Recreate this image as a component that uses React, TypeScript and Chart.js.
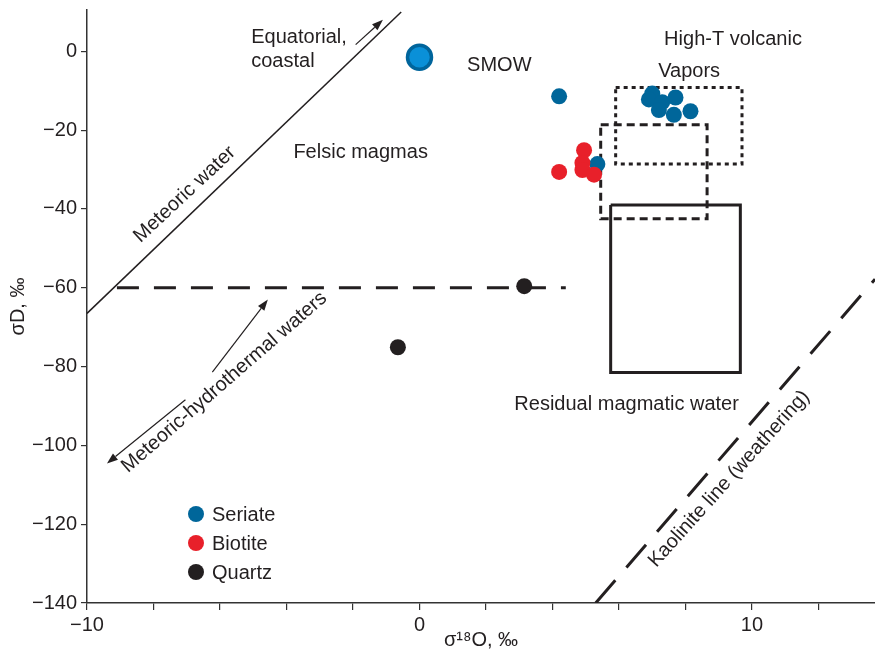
import React, { useEffect, useRef } from 'react';
import { Chart, registerables } from 'chart.js';

Chart.register(...registerables);

// ---- data ----
const seriateX = [4.2, 7.0, 6.9, 7.3, 7.2, 7.7, 7.65, 8.15, 5.35];
const seriateY = [-11.4, -10.7, -12.2, -12.9, -14.9, -11.7, -16.1, -15.2, -28.6];
const biotiteX = [4.95, 4.2, 4.9, 4.9, 5.25];
const biotiteY = [-25.1, -30.6, -28.3, -30.1, -31.3];
const quartzX = [3.15, -0.65];
const quartzY = [-59.6, -75.1];
const smowX = [0];
const smowY = [-1.5];

const meteoricLineX = [-10, -0.55];
const meteoricLineY = [-66.5, 10];
const hydroLineX = [-9.1, 4.4];
const hydroLineY = [-60, -60];
const kaoliniteLineX = [5.3, 13.7];
const kaoliniteLineY = [-140, -57.8];

const vaporsBoxX = [5.9, 9.7];
const vaporsBoxY = [-9.2, -28.6];
const felsicBoxX = [5.45, 8.65];
const felsicBoxY = [-18.6, -42.5];
const residualBoxX = [5.75, 9.65];
const residualBoxY = [-39, -81.5];

const xTickValuesLabelled = [-10, 0, 10];
const legendOrder = ['Seriate', 'Biotite', 'Quartz'];

const labels = [
  { text: 'Equatorial,', x: -5.06, y: 3.5, angle: 0, align: 'left' },
  { text: 'coastal', x: -5.06, y: -2.5, angle: 0, align: 'left' },
  { text: 'SMOW', x: 2.4, y: -3.6, angle: 0, align: 'center' },
  { text: 'High-T volcanic', x: 9.43, y: 3.0, angle: 0, align: 'center' },
  { text: 'Vapors', x: 8.11, y: -5.2, angle: 0, align: 'center' },
  { text: 'Felsic magmas', x: -1.77, y: -25.6, angle: 0, align: 'center' },
  { text: 'Residual magmatic water', x: 6.23, y: -89.5, angle: 0, align: 'center' },
  { text: 'Meteoric water', x: -7.06, y: -36.3, angle: -43, align: 'center' },
  { text: 'Meteoric-hydrothermal waters', x: -5.87, y: -84.0, angle: -41, align: 'center' },
  { text: 'Kaolinite line (weathering)', x: 9.31, y: -108.5, angle: -48, align: 'center' },
];

const arrowsFromX = [-1.92, -6.23, -7.04];
const arrowsFromY = [1.7, -81.4, -88.4];
const arrowsToX = [-1.1, -4.56, -9.4];
const arrowsToY = [8.0, -63.0, -104.6];

// ---- styles ----
const FONT = '"Liberation Sans", Arial, Helvetica, sans-serif';
const TEXT = '#231f20';
const AXIS = '#333333';
const BLUE = '#00669a';
const RED = '#e8202a';
const BLACK = '#231f20';

const pts = (xs: number[], ys: number[]) => xs.map((x, i) => ({ x, y: ys[i] }));
const box = (xs: number[], ys: number[]) => [
  { x: xs[0], y: ys[0] },
  { x: xs[1], y: ys[0] },
  { x: xs[1], y: ys[1] },
  { x: xs[0], y: ys[1] },
  { x: xs[0], y: ys[0] },
];
const fmt = (v: number) => (v < 0 ? '\u2212' + Math.abs(v) : String(v));

const annotationPlugin = {
  id: 'annotations',
  afterDatasetsDraw(chart: any) {
    const { ctx, scales, chartArea } = chart;
    const xs = scales.x;
    const ys = scales.y;
    ctx.save();
    // texts
    ctx.fillStyle = TEXT;
    ctx.font = `20px ${FONT}`;
    ctx.textBaseline = 'middle';
    for (const t of labels) {
      ctx.save();
      ctx.translate(xs.getPixelForValue(t.x), ys.getPixelForValue(t.y));
      ctx.rotate((t.angle * Math.PI) / 180);
      ctx.textAlign = t.align as CanvasTextAlign;
      ctx.fillText(t.text, 0, 0);
      ctx.restore();
    }
    // arrows
    ctx.strokeStyle = TEXT;
    ctx.fillStyle = TEXT;
    ctx.lineWidth = 1.2;
    for (let i = 0; i < arrowsFromX.length; i++) {
      const x1 = xs.getPixelForValue(arrowsFromX[i]);
      const y1 = ys.getPixelForValue(arrowsFromY[i]);
      const x2 = xs.getPixelForValue(arrowsToX[i]);
      const y2 = ys.getPixelForValue(arrowsToY[i]);
      const a = Math.atan2(y2 - y1, x2 - x1);
      const hl = 11;
      const hw = 4;
      const bx = x2 - hl * Math.cos(a);
      const by = y2 - hl * Math.sin(a);
      ctx.beginPath();
      ctx.moveTo(x1, y1);
      ctx.lineTo(bx, by);
      ctx.stroke();
      ctx.beginPath();
      ctx.moveTo(x2, y2);
      ctx.lineTo(bx + hw * Math.sin(a), by - hw * Math.cos(a));
      ctx.lineTo(bx - hw * Math.sin(a), by + hw * Math.cos(a));
      ctx.closePath();
      ctx.fill();
    }
    // legend
    const lx = chartArea.left + 109;
    let ly = chartArea.bottom - 89;
    ctx.textAlign = 'left';
    for (const name of legendOrder) {
      const d = chart.data.datasets.find((ds: any) => ds.label === name);
      if (!d) continue;
      ctx.beginPath();
      ctx.arc(lx, ly, 8, 0, Math.PI * 2);
      ctx.fillStyle = d.backgroundColor;
      ctx.fill();
      ctx.fillStyle = TEXT;
      ctx.fillText(d.label, lx + 16, ly + 1);
      ly += 29;
    }
    ctx.restore();
  },
};

export default function App() {
  const ref = useRef<HTMLCanvasElement | null>(null);

  useEffect(() => {
    if (!ref.current) return;
    const lineDs = (label: string, data: any[], dash: number[], width: number) => ({
      label,
      data,
      showLine: true,
      borderColor: BLACK,
      borderWidth: width,
      borderDash: dash,
      pointRadius: 0,
      pointHoverRadius: 0,
      fill: false,
      tension: 0,
      order: 10,
    });
    const chart = new Chart(ref.current, {
      type: 'scatter',
      data: {
        datasets: [
          {
            label: 'Quartz',
            data: pts(quartzX, quartzY),
            backgroundColor: BLACK,
            borderColor: BLACK,
            borderWidth: 0,
            pointRadius: 8,
            order: 1,
          },
          {
            label: 'Biotite',
            data: pts(biotiteX, biotiteY),
            backgroundColor: RED,
            borderColor: RED,
            borderWidth: 0,
            pointRadius: 8,
            order: 2,
          },
          {
            label: 'Seriate',
            data: pts(seriateX, seriateY),
            backgroundColor: BLUE,
            borderColor: BLUE,
            borderWidth: 0,
            pointRadius: 8,
            order: 3,
          },
          {
            label: 'SMOW',
            data: pts(smowX, smowY),
            backgroundColor: '#0a90d8',
            borderColor: '#00659c',
            borderWidth: 3.5,
            pointRadius: 12,
            order: 4,
          },
          lineDs('Meteoric water line', pts(meteoricLineX, meteoricLineY), [], 1.5),
          lineDs('Meteoric-hydrothermal', pts(hydroLineX, hydroLineY), [22, 15], 3),
          lineDs('Kaolinite line', pts(kaoliniteLineX, kaoliniteLineY), [30, 17], 3),
          lineDs('Vapors box', box(vaporsBoxX, vaporsBoxY), [4, 4], 3),
          lineDs('Felsic box', box(felsicBoxX, felsicBoxY), [8, 5], 3),
          lineDs('Residual box', box(residualBoxX, residualBoxY), [], 3),
        ],
      },
      options: {
        animation: false,
        responsive: true,
        maintainAspectRatio: false,
        layout: { autoPadding: false, padding: { top: 10, right: 0, left: 0, bottom: 0 } },
        plugins: {
          legend: { display: false },
          tooltip: { enabled: false },
        },
        events: [],
        scales: {
          x: {
            type: 'linear',
            min: -10,
            max: 13.7,
            border: { display: true, color: AXIS, width: 1.5 },
            grid: {
              display: true,
              drawOnChartArea: false,
              drawTicks: true,
              tickLength: 7,
              color: AXIS,
              lineWidth: 1.2,
            },
            ticks: {
              stepSize: 2,
              includeBounds: false,
              autoSkip: false,
              maxRotation: 0,
              padding: 3,
              color: TEXT,
              font: { family: FONT, size: 20 },
              callback: (v: any) => (xTickValuesLabelled.includes(Number(v)) ? fmt(Number(v)) : ''),
            },
            title: {
              display: true,
              text: 'σ¹⁸O, ‰',
              color: TEXT,
              font: { family: FONT, size: 20 },
              padding: { top: 0, bottom: 0 },
            },
            afterFit: (s: any) => {
              s.height = 49;
              s.paddingLeft = 0;
              s.paddingRight = 0;
            },
          },
          y: {
            type: 'linear',
            min: -140,
            max: 10.5,
            border: { display: true, color: AXIS, width: 1.5 },
            grid: {
              display: true,
              drawOnChartArea: false,
              drawTicks: true,
              tickLength: 6,
              color: AXIS,
              lineWidth: 1.2,
            },
            ticks: {
              stepSize: 20,
              includeBounds: false,
              autoSkip: false,
              padding: 4,
              color: TEXT,
              font: { family: FONT, size: 20 },
              callback: (v: any) => fmt(Number(v)),
            },
            title: {
              display: true,
              text: 'σD, ‰',
              color: TEXT,
              font: { family: FONT, size: 20 },
              padding: { top: 6, bottom: 0 },
            },
            afterFit: (s: any) => {
              s.width = 87;
              s.paddingTop = 0;
              s.paddingBottom = 0;
            },
          },
        },
      } as any,
      plugins: [annotationPlugin],
    });
    return () => chart.destroy();
  }, []);

  return (
    <div style={{ position: 'fixed', left: 0, top: 0, width: 875, height: 652, background: '#fff' }}>
      <canvas ref={ref} />
    </div>
  );
}
